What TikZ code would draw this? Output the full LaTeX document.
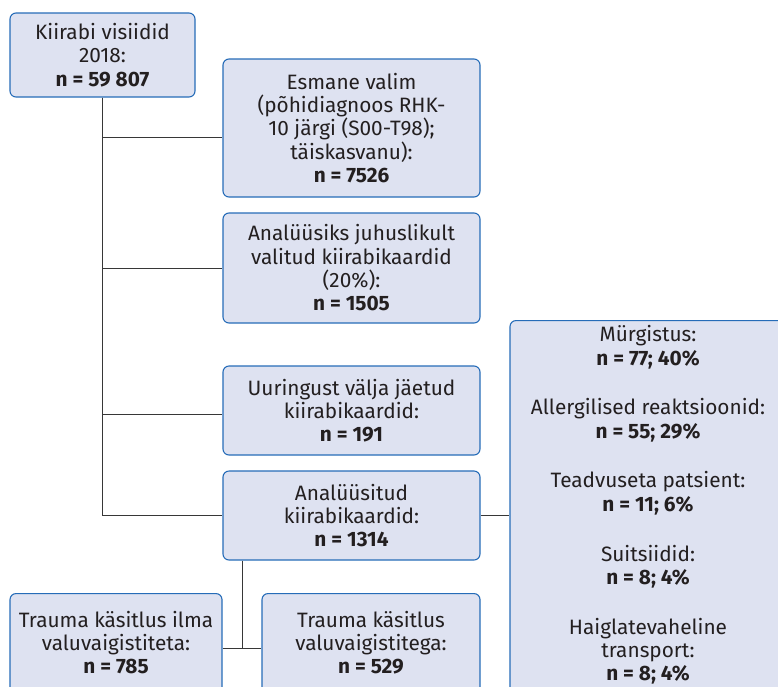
\documentclass[tikz,border=0pt]{standalone}
\usepackage{fontspec}
\setmainfont{Fira Sans}
\definecolor{boxfill}{RGB}{222,226,241}
\definecolor{boxline}{RGB}{38,108,184}
\definecolor{linkline}{RGB}{55,55,55}
\definecolor{inktext}{RGB}{35,31,32}

\begin{document}
\begin{tikzpicture}
[
    x=1pt, y=-1pt,
    box/.style={draw=boxline, fill=boxfill, line width=1.1pt, rounded corners=6pt, align=center, inner xsep=0pt, inner ysep=0pt, text=inktext, font=\fontsize{20.8}{23.3}\selectfont},
    openbox/.style={box, anchor=north},
    link/.style={draw=linkline, line width=1pt},
]
\useasboundingbox (0,0) rectangle (778,686);
\clip (0,0) rectangle (778,686);
\node [box, minimum width=185pt, minimum height=84pt] (visits) at (102.5,55)
{Kiirabi visiidid\\2018:\\\textbf{n = 59 807}};
\node [box, minimum width=257pt, minimum height=138pt] (first) at (351.5,128)
{Esmane valim\\(põhidiagnoos RHK-\\10 järgi (S00-T98);\\täiskasvanu):\\\textbf{n = 7526}};
\node [box, minimum width=257pt, minimum height=110pt] (sample) at (351.5,268)
{Analüüsiks juhuslikult\\valitud kiirabikaardid\\(20\%):\\\textbf{n = 1505}};
\node [box, minimum width=257pt, minimum height=89pt] (excluded) at (351.5,410.5)
{Uuringust välja jäetud\\kiirabikaardid:\\\textbf{n = 191}};
\node [box, minimum width=257pt, minimum height=89pt] (analysed) at (351.5,515.5)
{Analüüsitud\\kiirabikaardid:\\\textbf{n = 1314}};
\node [openbox, minimum width=276pt, inner ysep=5pt] (other) at (648,320)
{Mürgistus:\\\textbf{n = 77; 40\%}\\[26.5pt]
Allergilised reaktsioonid:\\\textbf{n = 55; 29\%}\\[26.5pt]
Teadvuseta patsient:\\\textbf{n = 11; 6\%}\\[26.5pt]
Suitsiidid:\\\textbf{n = 8; 4\%}\\[26.5pt]
Haiglatevaheline\\transport:\\\textbf{n = 8; 4\%}\rule[-20pt]{0pt}{20pt}};
\node [openbox, minimum width=212pt, inner ysep=17.5pt] (nopain) at (116,593)
{Trauma käsitlus ilma\\valuvaigistiteta:\\\textbf{n = 785}\rule[-20pt]{0pt}{20pt}};
\node [openbox, minimum width=218pt, inner ysep=17.5pt] (pain) at (371,593)
{Trauma käsitlus\\valuvaigistitega:\\\textbf{n = 529}\rule[-20pt]{0pt}{20pt}};
\coordinate (split) at (242,648);
\draw [link] (visits.south) |- ([yshift=-9pt]first.west);
\draw [link] (visits.south) |- (sample.west);
\draw [link] (visits.south) |- ([yshift=-4pt]excluded.west);
\draw [link] (visits.south) |- (analysed.west);
\draw [link] (analysed.east) -- (analysed.east -| other.west);
\draw [link] (analysed.south -| split) -- (split);
\draw [link] (nopain.east |- split) -- (pain.west |- split);
\end{tikzpicture}
\end{document}
